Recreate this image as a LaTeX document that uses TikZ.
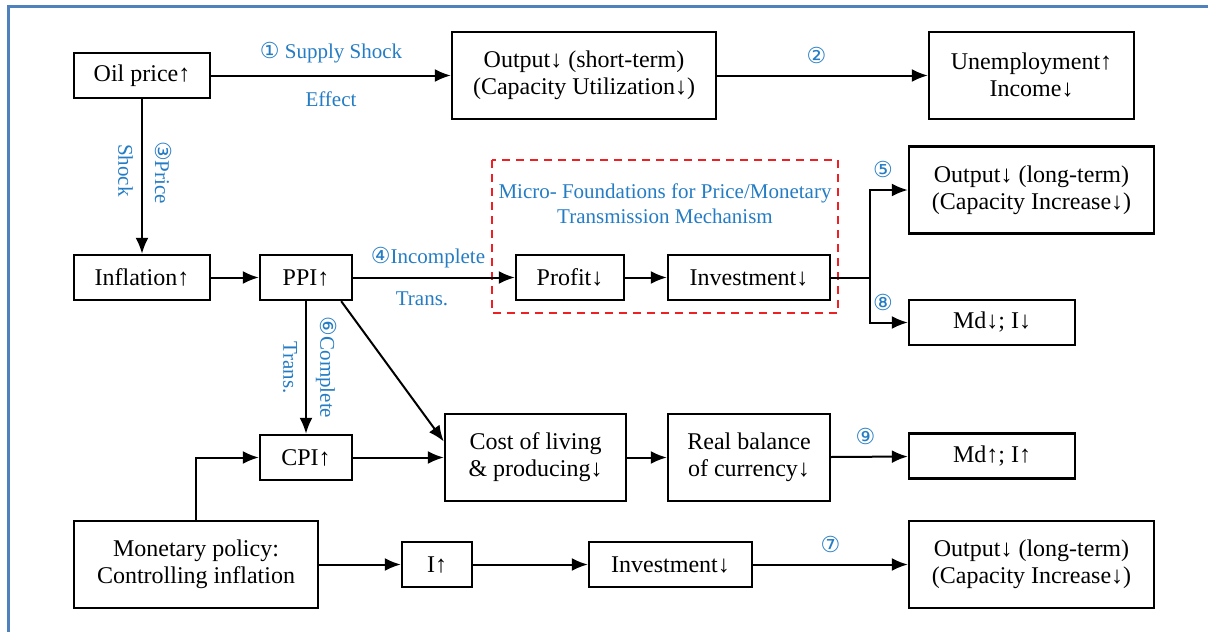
\documentclass[tikz,border=0pt]{standalone}
\usepackage{fontspec}
\setmainfont{Liberation Serif}
\newfontfamily\circfont{DejaVu Sans}
\usetikzlibrary{arrows.meta}

\definecolor{lblblue}{RGB}{36,124,196}
\definecolor{frameblue}{RGB}{79,129,189}
\definecolor{dashred}{RGB}{238,32,36}

\newcommand{\cnum}[1]{{\circfont\fontsize{11}{11}\selectfont #1}}

\begin{document}
\begin{tikzpicture}[x=0.5pt,y=-0.5pt]
\tikzset{ >={Latex[length=8pt,width=6.5pt]},
  box/.style={draw, line width=1.2pt, minimum height=22.5pt, inner sep=2pt,
              align=center, font=\fontsize{12}{13.5}\selectfont},
  tall/.style={minimum height=43.5pt},
  arr/.style={->, line width=1pt},
  lbl/.style={text=lblblue, inner sep=2.5pt, font=\fontsize{10.5}{12.5}\selectfont},
}
\useasboundingbox (0,0) rectangle (1208,632);
%\draw [lightgray, dashed](0,0) grid[step=50] (1208,632);

% frame
\draw [frameblue, line width=1.5pt] (8,632) -- (8,6) -- (1208,6);

% micro-foundations block
\draw [dashred, line width=1.3pt, dash pattern=on 4pt off 3pt] (492,160) rectangle (838,313);
\node [lbl, align=center] (micro) at (665,204) {Micro- Foundations for Price/Monetary\\Transmission Mechanism};

% top row
\node [box, minimum width=68pt]        (oil)    at (142,75.5)   {Oil price↑};
\node [box, tall, minimum width=132pt] (outS)   at (584,75.5)   {Output↓ (short-term)\\(Capacity Utilization↓)};
\node [box, tall, minimum width=102.5pt] (unemp) at (1031.5,75.5) {Unemployment↑\\Income↓};

% middle row
\node [box, minimum width=68pt]        (infl)   at (142,277.5)  {Inflation↑};
\node [box, minimum width=46pt]        (ppi)    at (306,277.5)  {PPI↑};
\node [box, minimum width=54pt]        (profit) at (570,277.5)  {Profit↓};
\node [box, minimum width=81pt]        (invM)   at (749,277.5)  {Investment↓};
\node [box, tall, minimum width=122.5pt] (outL) at (1031.5,190) {Output↓ (long-term)\\(Capacity Increase↓)};
\node [box, minimum width=83pt]        (mdd)    at (992,322.5)  {Md↓; I↓};
\coordinate (split) at (870,277.5);

% lower rows
\node [box, minimum width=46pt]        (cpi)    at (306,457.5)  {CPI↑};
\node [box, tall, minimum width=90.5pt] (cost)  at (535.5,457.5) {Cost of living\\\& producing↓};
\node [box, tall, minimum width=81pt]  (real)   at (749,457.5)  {Real balance\\of currency↓};
\node [box, minimum width=83pt]        (mdu)    at (992,456)    {Md↑; I↑};
\node [box, tall, minimum width=122pt] (mon)    at (196,564.5)  {Monetary policy:\\Controlling inflation};
\node [box, minimum width=35pt]        (iup)    at (437,564.5)  {I↑};
\node [box, minimum width=81.5pt]      (invB)   at (670.5,564.5) {Investment↓};
\node [box, tall, minimum width=122.5pt] (outB) at (1031.5,564.5) {Output↓ (long-term)\\(Capacity Increase↓)};

% connectors
\draw [arr] (oil) -- (outS)
  node [lbl, midway, above=3pt] {\cnum{①} Supply Shock}
  node [lbl, midway, below=5pt] {Effect};
\draw [arr] (outS) -- (unemp) node [lbl, midway, above=3pt, xshift=-3pt] {\cnum{②}};
\draw [arr] (oil) -- (infl)
  node [lbl, midway, rotate=-90, anchor=south, inner sep=6pt, xshift=-2pt] {\cnum{③}Price}
  node [lbl, midway, rotate=-90, anchor=north, inner sep=4pt, xshift=-3pt] {Shock};

\draw [arr] (infl) -- (ppi);
\draw [arr] (ppi) -- (profit)
  node [lbl, midway, above=2pt, xshift=-3pt] {\cnum{④}Incomplete}
  node [lbl, midway, below=4pt, xshift=-6pt] {Trans.};
\draw [arr] (profit) -- (invM);
\draw [line width=1pt] (invM) -- (split);
\draw [arr] (split) |- node [lbl, pos=0.75, above=3pt, xshift=-3pt] {\cnum{⑤}} (outL);
\draw [arr] (split) |- node [lbl, pos=0.75, above=3pt, xshift=-3pt] {\cnum{⑧}} (mdd);

\draw [arr] (ppi) -- (cpi)
  node [lbl, midway, rotate=-90, anchor=south, inner sep=4.5pt] {\cnum{⑥}Complete}
  node [lbl, midway, rotate=-90, anchor=north, inner sep=4pt] {Trans.};
\draw [arr] ([xshift=-6pt]ppi.south east) -- ([yshift=8pt]cost.west);
\draw [arr] (cpi) -- (cost);
\draw [arr] (cost) -- (real);
\draw [arr] (real) -- (mdu) node [lbl, midway, above=3pt, xshift=-2pt] {\cnum{⑨}};

\draw [arr] (mon) |- (cpi);
\draw [arr] (mon) -- (iup);
\draw [arr] (iup) -- (invB);
\draw [arr] (invB) -- (outB) node [lbl, midway, above=3pt] {\cnum{⑦}};

\end{tikzpicture}
\end{document}
